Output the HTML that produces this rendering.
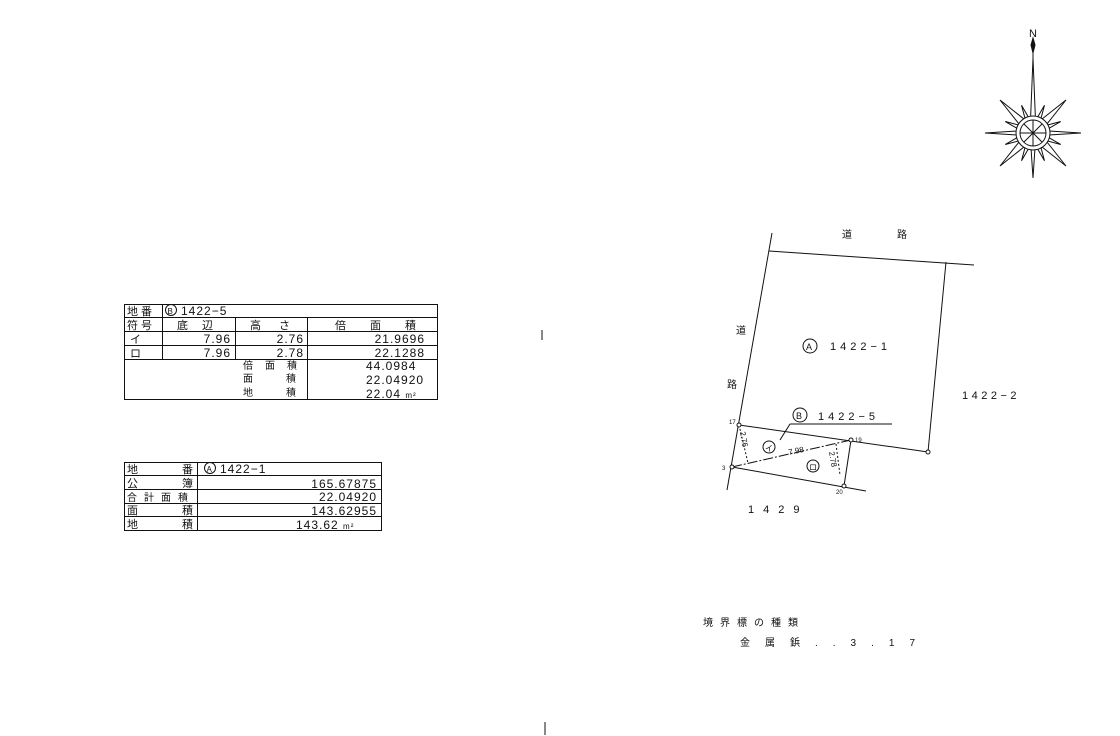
<!DOCTYPE html>
<html><head><meta charset="utf-8"><style>
html,body{margin:0;padding:0;background:#fff;}
svg{display:block;}
text{font-family:"Liberation Sans","Noto Sans CJK JP",sans-serif;fill:#111;}
</style></head><body>
<svg width="1120" height="736" viewBox="0 0 1120 736" xmlns="http://www.w3.org/2000/svg">
<g stroke="#111" fill="none" stroke-width="1">
<rect x="124.5" y="304.5" width="313" height="95"/>
<line x1="124" y1="317.5" x2="438" y2="317.5"/>
<line x1="124" y1="331.5" x2="438" y2="331.5"/>
<line x1="124" y1="345.5" x2="438" y2="345.5"/>
<line x1="124" y1="359.5" x2="438" y2="359.5"/>
<line x1="162.5" y1="304" x2="162.5" y2="359"/>
<line x1="235.5" y1="317" x2="235.5" y2="359"/>
<line x1="307.5" y1="317" x2="307.5" y2="399"/>
<rect x="124.5" y="462.5" width="257" height="68"/>
<line x1="124" y1="475.5" x2="382" y2="475.5"/>
<line x1="124" y1="489.5" x2="382" y2="489.5"/>
<line x1="124" y1="503.5" x2="382" y2="503.5"/>
<line x1="124" y1="516.5" x2="382" y2="516.5"/>
<line x1="197.5" y1="462" x2="197.5" y2="530"/>
<line x1="772" y1="233" x2="727" y2="490"/>
<line x1="769" y1="251" x2="974" y2="265"/>
<line x1="946" y1="262" x2="928" y2="452"/>
<line x1="739" y1="425" x2="928" y2="452"/>
<line x1="851" y1="440" x2="844" y2="486"/>
<line x1="732" y1="467" x2="866" y2="491"/>
<line x1="732" y1="467" x2="851" y2="440" stroke-dasharray="10,2,2,2"/>
<line x1="739" y1="425" x2="748" y2="463" stroke-dasharray="2,2"/>
<line x1="836" y1="444" x2="840" y2="475" stroke-dasharray="2,2"/>
<line x1="790" y1="424" x2="892" y2="424"/>
<line x1="790" y1="424" x2="780" y2="440"/>
<circle cx="739" cy="425" r="2" fill="#fff"/>
<circle cx="732" cy="467" r="2" fill="#fff"/>
<circle cx="851" cy="440" r="2" fill="#fff"/>
<circle cx="844" cy="486" r="2" fill="#fff"/>
<circle cx="928" cy="452" r="2" fill="#fff"/>
<circle cx="810" cy="346" r="7"/>
<circle cx="800" cy="415" r="7"/>
<circle cx="769" cy="447" r="6"/>
<circle cx="813" cy="466" r="6"/>
<circle cx="171" cy="310" r="5.5"/>
<circle cx="210" cy="468" r="5.5"/>
<line x1="542" y1="330" x2="542" y2="340"/>
<line x1="545" y1="722" x2="545" y2="735"/>
</g>
<g transform="translate(1033,133)" stroke="#111" fill="#fff" stroke-width="1">
<path d="M0,-95 L-2,-88 L0,-80 L2,-88Z" fill="#111"/>
<line x1="0" y1="-80" x2="0" y2="-70"/>
<path d="M0,-75 L-3,0 L0,45 L3,0Z"/>
<path d="M-48,0 L0,-3 L48,0 L0,3Z"/>
<path d="M-33,-33 L-4,-10 L0,0 L-10,-4Z"/>
<path d="M33,-33 L10,-4 L0,0 L4,-10Z"/>
<path d="M-33,33 L-10,4 L0,0 L-4,10Z"/>
<path d="M33,33 L4,10 L0,0 L10,4Z"/>
<g transform="rotate(22.5)"><path d="M0,-30 L-4,0 L0,30 L4,0Z M-30,0 L0,-4 L30,0 L0,4Z"/></g>
<g transform="rotate(-22.5)"><path d="M0,-30 L-4,0 L0,30 L4,0Z M-30,0 L0,-4 L30,0 L0,4Z"/></g>
<circle r="17"/>
<circle r="13"/>
<line x1="-13" y1="0" x2="13" y2="0"/><line x1="0" y1="-13" x2="0" y2="13"/>
<line x1="-9" y1="-9" x2="9" y2="9"/><line x1="-9" y1="9" x2="9" y2="-9"/>
</g>
<text x="1029" y="37" font-size="11">N</text>
<g font-size="11">
<text x="127" y="315">地 番</text>
<text x="167.5" y="314" font-size="8">B</text>
<text x="181" y="315" font-size="12" letter-spacing="1">1422−5</text>
<text x="127" y="329">符 号</text>
<text x="177" y="329" letter-spacing="14">底辺</text>
<text x="250" y="329" letter-spacing="18">高さ</text>
<text x="335" y="329" letter-spacing="24">倍面積</text>
<text x="130" y="343">イ</text>
<text x="130" y="357">ロ</text>
<text x="231" y="343" text-anchor="end" font-size="12" letter-spacing="1">7.96</text>
<text x="231" y="357" text-anchor="end" font-size="12" letter-spacing="1">7.96</text>
<text x="304" y="343" text-anchor="end" font-size="12" letter-spacing="1">2.76</text>
<text x="304" y="357" text-anchor="end" font-size="12" letter-spacing="1">2.78</text>
<text x="425" y="343" text-anchor="end" font-size="12" letter-spacing="1">21.9696</text>
<text x="425" y="357" text-anchor="end" font-size="12" letter-spacing="1">22.1288</text>
<text x="243" y="369" font-size="10" letter-spacing="12">倍面積</text>
<text x="243" y="382" font-size="10">面</text><text x="286" y="382" font-size="10">積</text>
<text x="243" y="396" font-size="10">地</text><text x="286" y="396" font-size="10">積</text>
<text x="366" y="370" font-size="12" letter-spacing="1">44.0984</text>
<text x="366" y="384" font-size="12" letter-spacing="1">22.04920</text>
<text x="366" y="398" font-size="12" letter-spacing="1">22.04 <tspan font-size="8">m²</tspan></text>
<text x="127" y="473">地</text><text x="182" y="473">番</text>
<text x="206.5" y="472" font-size="8">A</text>
<text x="220" y="473" font-size="12" letter-spacing="1">1422−1</text>
<text x="127" y="487">公</text><text x="182" y="487">簿</text>
<text x="127" y="501" font-size="10" letter-spacing="7">合計面積</text>
<text x="127" y="514">面</text><text x="182" y="514">積</text>
<text x="127" y="528">地</text><text x="182" y="528">積</text>
<text x="377" y="488" text-anchor="end" font-size="12" letter-spacing="1">165.67875</text>
<text x="377" y="501" text-anchor="end" font-size="12" letter-spacing="1">22.04920</text>
<text x="377" y="515" text-anchor="end" font-size="12" letter-spacing="1">143.62955</text>
<text x="296" y="529" font-size="12" letter-spacing="1">143.62 <tspan font-size="8">m²</tspan></text>
</g>
<g font-size="10">
<text x="842" y="238">道</text><text x="897" y="238">路</text>
<text x="736" y="334">道</text><text x="727" y="388">路</text>
<text x="806" y="350" font-size="9">A</text>
<text x="830" y="350" font-size="11" letter-spacing="4">1422−1</text>
<text x="962" y="399" font-size="11" letter-spacing="3.5">1422−2</text>
<text x="796" y="419" font-size="9">B</text>
<text x="818" y="420" font-size="11" letter-spacing="4">1422−5</text>
<text x="748" y="513" font-size="11" letter-spacing="9">1429</text>
<text x="729" y="424" font-size="6">17</text>
<text x="722" y="470" font-size="6">3</text>
<text x="855" y="442" font-size="6">19</text>
<text x="836" y="494" font-size="6">20</text>
<text x="765" y="451" font-size="8">イ</text>
<text x="809" y="470" font-size="8">ロ</text>
<text x="789" y="455" font-size="8" transform="rotate(-12 789 455)">7.98</text>
<text x="740" y="432" font-size="8" transform="rotate(80 740 432)">2.76</text>
<text x="829" y="452" font-size="8" transform="rotate(80 829 452)">2.78</text>
<text x="703" y="626" font-size="10" letter-spacing="7">境界標の種類</text>
<text x="740" y="646" font-size="10" letter-spacing="15">金属鋲..3.17</text>
</g>
</svg>
</body></html>
